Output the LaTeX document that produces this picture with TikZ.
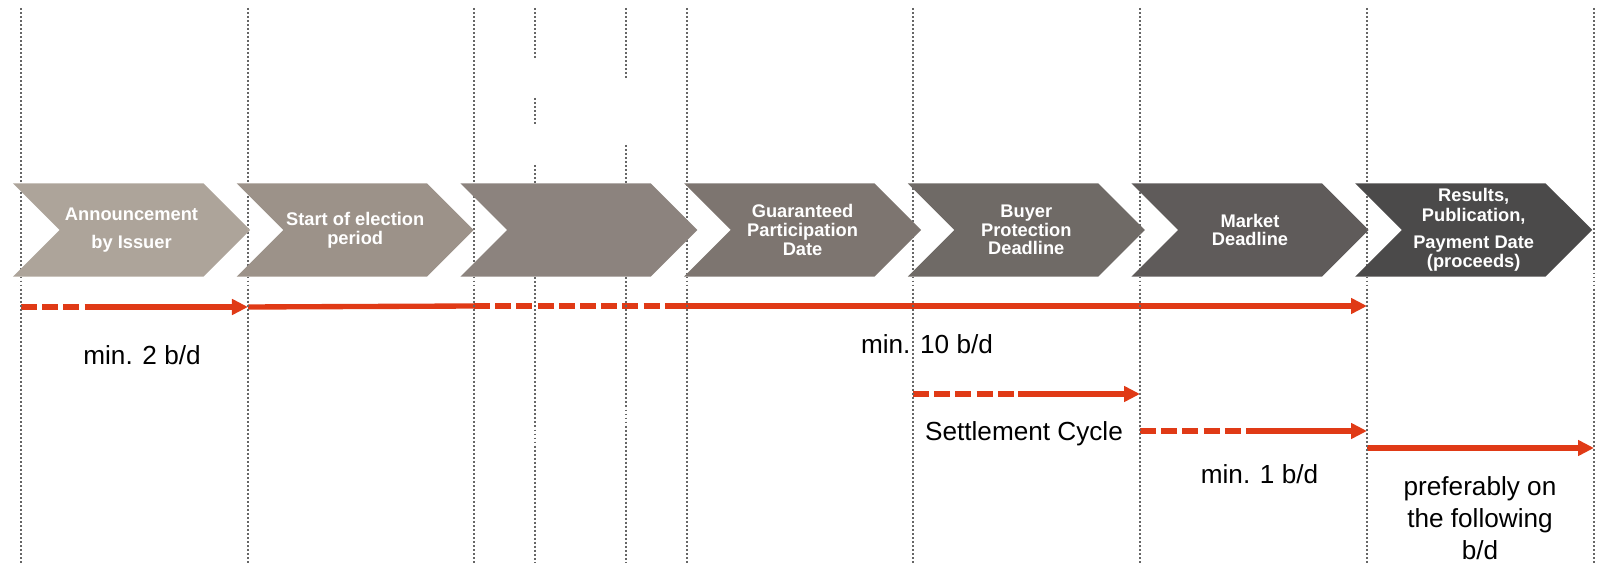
\documentclass[tikz,border=0pt]{standalone}
\usepackage{fontspec}
\setmainfont{Liberation Sans}
\usepackage{xcolor}
\usetikzlibrary{shapes.symbols, arrows.meta, positioning}

\definecolor{tlred}{RGB}{224,58,22}
\definecolor{chevA}{RGB}{173,164,154}
\definecolor{chevB}{RGB}{156,146,137}
\definecolor{chevC}{RGB}{140,131,126}
\definecolor{chevD}{RGB}{125,117,112}
\definecolor{chevE}{RGB}{111,106,102}
\definecolor{chevF}{RGB}{95,91,90}
\definecolor{chevG}{RGB}{75,74,74}

\begin{document}
\begin{tikzpicture}[
  x=0.025cm, y=-0.025cm,
  chev/.style={signal, signal from=west, signal to=east, signal pointer angle=90, draw=none, minimum width=5.925cm, minimum height=2.333cm, inner sep=0pt, text=white, align=center, font=\fontsize{13}{13.3}\selectfont\bfseries},
  tl/.style={tlred, line width=3.8pt},
  tlarrow/.style={tl, -{Triangle[length=0.4cm, width=0.38cm]}},
  tldash/.style={tl, dash pattern=on 0.4cm off 0.13cm},
  grid/.style={black!60, line width=1pt, dash pattern=on 1.4pt off 1.45pt},
  lbl/.style={font=\fontsize{18.6}{22.8}\selectfont, align=center},
]
\useasboundingbox (0,0) rectangle (1599,563);

% Zeitachse (Punkte)
\coordinate (ann0) at (21,307);
\coordinate (ann1) at (97,307);
\coordinate (ann2) at (248,307);
\coordinate (sta1) at (474,306);
\coordinate (sta2) at (670,306);
\coordinate (res0) at (1367,306);
\coordinate (bpd0) at (913,394);
\coordinate (bpd1) at (1018,394);
\coordinate (mkt0) at (1140,394);
\coordinate (mkt1) at (1140,431);
\coordinate (mkt2) at (1260,431);
\coordinate (res1) at (1367,431);
\coordinate (res2) at (1367,448);
\coordinate (end0) at (1594,448);

% Pfeile
\draw[tldash] (ann0) -- (ann1);
\draw[tlarrow] (ann1) -- (ann2);
\draw[tl] (ann2) -- (sta1);
\draw[tldash] (sta1) -- (sta2);
\draw[tlarrow] (sta2) -- (res0);
\draw[tldash] (bpd0) -- (bpd1);
\draw[tlarrow] (bpd1) -- (mkt0);
\draw[tldash] (mkt1) -- (mkt2);
\draw[tlarrow] (mkt2) -- (res1);
\draw[tlarrow] (res2) -- (end0);

% Beschriftungen
\node[lbl, anchor=base] (min2) at (142,365) {min. 2 b/d};
\node[lbl, anchor=base] (min10) at (927,354) {min. 10 b/d};
\node[lbl, anchor=base] (settle) at (1024,440.7) {Settlement Cycle};
\node[lbl, anchor=base] (min1) at (1259.5,484) {min. 1 b/d};
\node[lbl] (pref) at (1480,518.5) {preferably on\\the following\\b/d};

% Hilfslinien
\draw[grid] (21,8) -- (21,563) (248,8) -- (248,563) (474,8) -- (474,563)
  (687,8) -- (687,563) (913,8) -- (913,563) (1140,8) -- (1140,563)
  (1367,8) -- (1367,563) (1594,8) -- (1594,563);
\draw[grid] (535,8) -- (535,60) (535,98) -- (535,125) (535,165) -- (535,563);
\draw[grid] (626,8) -- (626,80) (626,145) -- (626,563);

% Phasen
\node[chev, fill=chevA] (ann) at (131.5,230) {Announcement\\[6.5pt]by Issuer};
\node[chev, fill=chevB] (start) at (355.2,230) {Start of election\\period};
\node[chev, fill=chevC] (blank) at (578.9,230) {};
\node[chev, fill=chevD] (gpd) at (802.6,230) {Guaranteed\\Participation\\Date};
\node[chev, fill=chevE] (bpd) at (1026.3,230) {Buyer\\Protection\\Deadline};
\node[chev, fill=chevF] (mkt) at (1250,230) {Market\\Deadline};
\node[chev, fill=chevG] (res) at (1473.7,230) {Results,\\[1pt]Publication,\\[6pt]Payment Date\\(proceeds)};

\end{tikzpicture}
\end{document}
